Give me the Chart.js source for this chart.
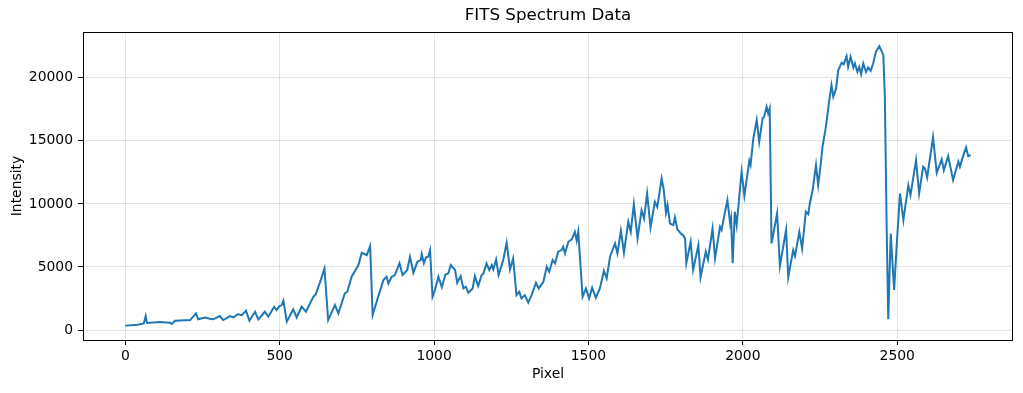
<!DOCTYPE html>
<html>
<head>
<meta charset="utf-8">
<title>FITS Spectrum Data</title>
<script src="https://cdn.jsdelivr.net/npm/chart.js@4.4.1/dist/chart.umd.min.js"></script>
<style>
  html, body { margin: 0; padding: 0; background: #fff; }
  canvas { display: block; }
</style>
</head>
<body>
<canvas id="spectrum" width="1023" height="393"></canvas>
<script>
// values
const pixels = [
  0, 40, 60, 66, 70, 112, 145, 150, 161, 210, 229, 236, 258, 274, 285, 306, 317, 339, 350, 366,
  377, 391, 402, 420, 431, 452, 463, 482, 490, 499, 506, 512, 523, 544, 555, 571, 585, 609, 617, 633,
  645, 657, 679, 690, 711, 719, 733, 755, 766, 782, 793, 801, 819, 836, 846, 852, 863, 873, 888, 898,
  913, 922, 933, 946, 957, 960, 967, 974, 981, 987, 995, 1003, 1014, 1025, 1037, 1046, 1054, 1068, 1075, 1086,
  1095, 1103, 1111, 1125, 1132, 1143, 1154, 1160, 1170, 1179, 1187, 1192, 1201, 1209, 1224, 1235, 1246, 1256, 1267, 1276,
  1283, 1294, 1305, 1316, 1330, 1339, 1354, 1365, 1373, 1384, 1392, 1402, 1413, 1418, 1424, 1435, 1446, 1456, 1462, 1467,
  1481, 1492, 1502, 1512, 1524, 1537, 1550, 1559, 1570, 1586, 1594, 1605, 1615, 1629, 1637, 1647, 1659, 1672, 1680, 1690,
  1701, 1715, 1723, 1737, 1744, 1751, 1756, 1764, 1775, 1780, 1788, 1799, 1807, 1813, 1817, 1831, 1839, 1856, 1863, 1880,
  1887, 1902, 1910, 1926, 1931, 1950, 1959, 1962, 1967, 1974, 1980, 1996, 2005, 2021, 2025, 2034, 2045, 2053, 2064, 2069,
  2077, 2082, 2087, 2093, 2111, 2120, 2140, 2147, 2163, 2169, 2183, 2192, 2204, 2212, 2217, 2226, 2237, 2244, 2252, 2258,
  2269, 2280, 2287, 2293, 2302, 2309, 2314, 2320, 2327, 2336, 2341, 2349, 2358, 2363, 2371, 2377, 2383, 2390, 2399, 2406,
  2414, 2422, 2431, 2442, 2448, 2455, 2460, 2466, 2471, 2479, 2490, 2498, 2509, 2520, 2536, 2543, 2561, 2571, 2584, 2590,
  2597, 2616, 2628, 2644, 2651, 2665, 2681, 2698, 2703, 2711, 2723, 2730, 2738
];
const intensity = [
  350, 420, 520, 1110, 560, 630, 580, 480, 740, 790, 1320, 850, 1000, 900, 850, 1110, 790, 1110, 1000, 1270,
  1160, 1530, 740, 1450, 850, 1450, 1060, 1850, 1590, 1900, 1960, 2330, 660, 1640, 1000, 1850, 1450, 2640, 2850, 3960,
  4880, 790, 1980, 1320, 2900, 3040, 4230, 5150, 6130, 5940, 6660, 1190, 2640, 3960, 4230, 3700, 4230, 4360, 5290, 4360,
  4760, 5810, 4540, 5410, 5550, 6030, 5290, 5760, 5810, 6340, 2640, 3170, 4230, 3400, 4400, 4490, 5150, 4760, 3750, 4280,
  3300, 3430, 2960, 3300, 4280, 3490, 4360, 4490, 5290, 4760, 5150, 4810, 5600, 4360, 5550, 6920, 4810, 5680, 2770, 3040,
  2510, 2770, 2170, 2770, 3750, 3300, 3830, 5020, 4620, 5550, 5290, 6210, 6340, 6600, 6080, 7000, 7190, 7790, 7080, 7790,
  2640, 3300, 2510, 3350, 2560, 3300, 4700, 4100, 5810, 6870, 6080, 7870, 6130, 8580, 7790, 9990, 7270, 9510, 8850, 10830,
  8140, 10170, 9770, 12020, 11100, 9300, 9910, 8450, 8320, 8930, 7980, 7660, 7500, 7270, 5300, 7000, 4760, 6740, 4180, 6210,
  5600, 8060, 5680, 8190, 7930, 10300, 8450, 8850, 5290, 9380, 8320, 12550, 10650, 13420, 13080, 15190, 16650, 14920, 16780, 16910,
  17700, 17180, 17570, 6870, 9250, 5070, 7930, 4180, 6340, 5870, 7790, 6450, 9380, 9190, 10040, 11100, 13080, 11490, 13080, 14530,
  16110, 18230, 19420, 18490, 19160, 20610, 20870, 21190, 21080, 21720, 20870, 21660, 20820, 21140, 20470, 20870, 20290, 21140, 20470, 20820,
  20550, 21140, 22060, 22510, 22190, 21800, 18490, 7930, 850, 7660, 3170, 6600, 10830, 8720, 11490, 10700, 13470, 10830, 12940, 12800,
  12100, 15300, 12470, 13530, 12680, 13790, 11890, 13340, 12940, 13610, 14480, 13790, 13870
];
const xTicks = [0, 500, 1000, 1500, 2000, 2500];
const yTicks = [0, 5000, 10000, 15000, 20000];

const font = 'DejaVu Sans';
const gridColor = 'rgba(176, 176, 176, 0.35)';

// matplotlib style closed frame round the plot area
const frameBox = {
  id: 'frameBox',
  afterDraw(chart) {
    const { ctx, chartArea: a } = chart;
    ctx.save();
    ctx.strokeStyle = '#000';
    ctx.lineWidth = 1;
    ctx.strokeRect(Math.round(a.left) + 0.5, Math.round(a.top) + 0.5,
      Math.round(a.right - a.left) - 1, Math.round(a.bottom - a.top));
    ctx.restore();
  },
};

new Chart(document.getElementById('spectrum'), {
  type: 'line',
  data: {
    datasets: [{
      label: 'Intensity',
      data: pixels.map((p, i) => ({ x: p, y: intensity[i] })),
      borderColor: '#1f77b4',
      borderWidth: 2,
      pointRadius: 0,
      tension: 0,
      fill: false,
    }],
  },
  options: {
    responsive: false,
    animation: false,
    layout: { padding: { left: 0, right: 10, top: 0, bottom: 0 } },
    plugins: {
      legend: { display: false },
      tooltip: { enabled: false },
      title: {
        display: true,
        text: 'FITS Spectrum Data',
        fullSize: false,
        color: '#000',
        font: { family: font, size: 16.7, weight: 'normal' },
        padding: { top: 6, bottom: 6 },
      },
    },
    scales: {
      x: {
        type: 'linear',
        min: -137,
        max: 2875,
        afterBuildTicks: (axis) => { axis.ticks = xTicks.map((v) => ({ value: v })); },
        afterFit: (axis) => { axis.height = 53; },
        grid: { color: gridColor, tickColor: '#000', tickLength: 5 },
        border: { display: false },
        ticks: { color: '#000', padding: 3, maxRotation: 0, font: { family: font, size: 13.9 }, callback: (v) => String(v) },
        title: {
          display: true,
          text: 'Pixel',
          color: '#000',
          font: { family: font, size: 13.9 },
          padding: { top: 0, bottom: 10.5 },
        },
      },
      y: {
        min: -790,
        max: 23630,
        afterBuildTicks: (axis) => { axis.ticks = yTicks.map((v) => ({ value: v })); },
        afterFit: (axis) => { axis.width = 83; },
        grid: { color: gridColor, tickColor: '#000', tickLength: 5 },
        border: { display: false },
        ticks: { color: '#000', padding: 5, font: { family: font, size: 13.9 }, callback: (v) => String(v) },
        title: {
          display: true,
          text: 'Intensity',
          color: '#000',
          font: { family: font, size: 13.9 },
          padding: { top: 8.7, bottom: 0 },
        },
      },
    },
  },
  plugins: [frameBox],
});
</script>
</body>
</html>
